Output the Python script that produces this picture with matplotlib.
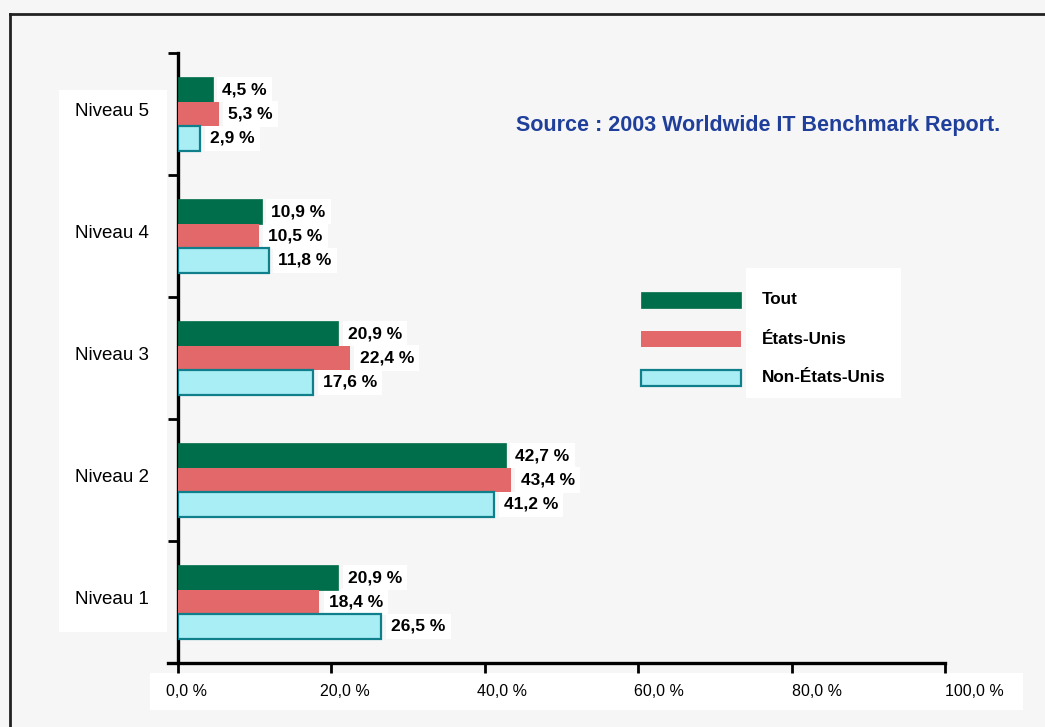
import matplotlib.pyplot as plt
from matplotlib.patches import Rectangle
from matplotlib.lines import Line2D
from matplotlib.transforms import offset_copy
import numpy as np

plt.rcParams['font.family'] = ['Liberation Sans', 'DejaVu Sans']

# ==== data ====
niveaux = ['Niveau 1', 'Niveau 2', 'Niveau 3', 'Niveau 4', 'Niveau 5']
series = ['Tout', 'États-Unis', 'Non-États-Unis']
tout = [20.9, 42.7, 20.9, 10.9, 4.5]
etats_unis = [18.4, 43.4, 22.4, 10.5, 5.3]
non_etats_unis = [26.5, 41.2, 17.6, 11.8, 2.9]
xticks = [0, 20, 40, 60, 80, 100]
xtick_labels = ['0,0 %', '20,0 %', '40,0 %', '60,0 %', '80,0 %', '100,0 %']
source = 'Source : 2003 Worldwide IT Benchmark Report.'

# ==== styles ====
fills = ['#006e4a', '#e3686a', '#aaeef5']
edges = ['#006e4a', '#e3686a', '#0f7f8c']
lws = [0.5, 0, 1.6]
offsets = [0.2, 0.0, -0.2]
bg = '#f6f6f6'

W, H = 1045, 727
fig = plt.figure(figsize=(W / 100, H / 100), dpi=100, facecolor=bg)

def fx(px):
    return px / W

def fy(py):
    return 1 - py / H

# outer frame (left and top lines)
fig.add_artist(Line2D([fx(10), fx(10)], [fy(14), 0], color='#222222', lw=2))
fig.add_artist(Line2D([fx(10), 1], [fy(14), fy(14)], color='#222222', lw=2))

# white boxes behind category labels and x tick labels
fig.add_artist(Rectangle((fx(59), fy(632)), fx(167) - fx(59), fy(90) - fy(632),
                         facecolor='white', edgecolor='none', zorder=0))
fig.add_artist(Rectangle((fx(150), fy(710)), fx(1023) - fx(150), fy(673) - fy(710),
                         facecolor='white', edgecolor='none', zorder=0))

ax = fig.add_axes([fx(178), fy(663), fx(945) - fx(178), fy(53) - fy(663)])
ax.set_facecolor('none')

y = np.arange(len(niveaux))
data = [tout, etats_unis, non_etats_unis]
for vals, fc, ec, lw, off, name in zip(data, fills, edges, lws, offsets, series):
    bars = ax.barh(y + off, vals, height=0.2, color=fc, edgecolor=ec,
                   linewidth=lw, label=name, zorder=3)
    for b, v in zip(bars, vals):
        ax.annotate(f'{v:.1f} %'.replace('.', ','),
                    (b.get_width(), b.get_y() + b.get_height() / 2),
                    xytext=(7, 0), textcoords='offset points',
                    ha='left', va='center', fontsize=12.5, fontweight='bold',
                    bbox=dict(boxstyle='square,pad=0.3', fc='white', ec='none'),
                    zorder=2)

ax.set_xlim(0, 100)
ax.set_ylim(-0.5, 4.5)

for s in ['top', 'right']:
    ax.spines[s].set_visible(False)
for s in ['left', 'bottom']:
    ax.spines[s].set_linewidth(2.4)
    ax.spines[s].set_color('black')
ax.spines['bottom'].set_bounds(-1.3, 100)

ax.set_xticks(xticks)
ax.set_xticklabels(xtick_labels, fontsize=11.5)
ax.tick_params(axis='x', direction='out', length=7, width=2, pad=8)
for lab, t in zip(ax.get_xticklabels(), xticks):
    lab.set_transform(offset_copy(lab.get_transform(), fig=fig,
                                  x=9 + 0.2 * t, y=0, units='dots'))

ax.set_yticks(np.arange(-0.5, 5, 1))
ax.set_yticklabels([])
ax.set_yticks(y, minor=True)
ax.set_yticklabels(niveaux, minor=True, fontsize=13.5, ha='left')
ax.tick_params(axis='y', which='major', direction='out', length=7, width=2)
ax.tick_params(axis='y', which='minor', length=0, pad=74)
for lab in ax.get_yticklabels(minor=True):
    lab.set_transform(offset_copy(lab.get_transform(), fig=fig, x=0, y=5, units='dots'))

# source note
fig.text(fx(758), fy(126), source, ha='center', va='center', fontsize=15.5,
         fontweight='bold', color='#1f3f9a')

# legend drawn by hand
fig.add_artist(Rectangle((fx(746), fy(398)), fx(901) - fx(746), fy(268) - fy(398),
                         facecolor='white', edgecolor='none', zorder=0))
for i, (name, fc, ec, lw) in enumerate(zip(series, fills, edges, lws)):
    yc = 300 + i * 39
    fig.add_artist(Rectangle((fx(641), fy(yc + 8)), fx(741) - fx(641), fy(yc - 8) - fy(yc + 8),
                             facecolor=fc, edgecolor=ec, linewidth=lw))
    fig.text(fx(762), fy(yc), name, ha='left', va='center', fontsize=12.3, fontweight='bold')

fig.savefig('out.png', dpi=100, facecolor=bg)
